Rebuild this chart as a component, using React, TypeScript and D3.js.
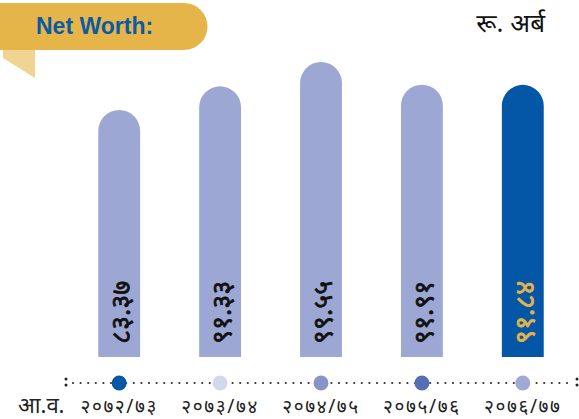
import React, { useRef, useEffect } from 'react';
import * as d3 from 'd3';

const years = ['२०७२/७३', '२०७३/७४', '२०७४/७५', '२०७५/७६', '२०७६/७७'];
const values = [83.37, 91.33, 99.55, 91.91, 91.84];
const valueLabels = ['८३.३७', '९१.३३', '९९.५५', '९१.९१', '९१.८४'];
const dotColors = ['#0457a6', '#d3d8ec', '#8893c8', '#5470b4', '#9fa9d6'];

const App = () => {
  const svgRef = useRef<SVGSVGElement>(null);

  useEffect(() => {
    const width = 579;
    const height = 419;
    const baseY = 357;

    const svg = d3.select(svgRef.current)
      .attr('width', width)
      .attr('height', height);

    svg.selectAll('*').remove();

    const font = '"Noto Sans", "DejaVu Sans", sans-serif';

    // header banner
    svg.append('path')
      .attr('d', 'M3,50 L35,50 L35,78 L3,58 Z')
      .attr('fill', '#f0d492');
    svg.append('path')
      .attr('d', 'M0,3 L184,3 A23.5,23.5 0 0 1 184,50 L0,50 Z')
      .attr('fill', '#e5b54a');
    svg.append('text')
      .attr('x', 36)
      .attr('y', 34)
      .attr('font-family', '"Liberation Sans", Arial, sans-serif')
      .attr('font-weight', 'bold')
      .attr('font-size', 23)
      .attr('fill', '#0a5aa6')
      .text('Net Worth:');

    svg.append('text')
      .attr('x', 545)
      .attr('y', 32)
      .attr('text-anchor', 'end')
      .attr('font-family', font)
      .attr('font-size', 26)
      .attr('fill', '#111')
      .text('रू. अर्ब');

    const x = d3.scaleBand()
      .domain(years)
      .range([68, 574])
      .paddingInner(0.585)
      .paddingOuter(0.3);

    const y = d3.scaleLinear()
      .domain([0, 99.55])
      .range([baseY, 62]);

    const bw = x.bandwidth();
    const r = bw / 2;

    const data = years.map((yr, i) => ({ yr, v: values[i], label: valueLabels[i], i }));

    svg.selectAll('.bar')
      .data(data)
      .enter()
      .append('path')
      .attr('class', 'bar')
      .attr('d', d => {
        const x0 = x(d.yr)!;
        const top = y(d.v);
        return `M${x0},${baseY} L${x0},${top + r} A${r},${r} 0 0 1 ${x0 + bw},${top + r} L${x0 + bw},${baseY} Z`;
      })
      .attr('fill', d => (d.i === 4 ? '#0457a6' : '#9ca8d3'));

    // value labels, rotated inside the bars
    svg.selectAll('.label')
      .data(data)
      .enter()
      .append('text')
      .attr('class', 'label')
      .attr('transform', d => `translate(${x(d.yr)! + r + 11},344) rotate(-90)`)
      .attr('font-family', font)
      .attr('font-size', 27)
      .attr('fill', d => (d.i === 4 ? '#e5b54a' : '#111'))
      .attr('stroke', d => (d.i === 4 ? '#e5b54a' : '#111'))
      .attr('stroke-width', 0.7)
      .text(d => d.label);

    // timeline
    const lineY = 383;
    svg.append('line')
      .attr('x1', 73)
      .attr('x2', 572)
      .attr('y1', lineY)
      .attr('y2', lineY)
      .attr('stroke', '#333')
      .attr('stroke-width', 2.2)
      .attr('stroke-linecap', 'round')
      .attr('stroke-dasharray', '0,7.6');
    [66, 577].forEach(cx => {
      [lineY - 4, lineY + 2].forEach(cy => {
        svg.append('circle').attr('cx', cx).attr('cy', cy).attr('r', 1.5).attr('fill', '#222');
      });
    });

    svg.selectAll('.dot')
      .data(data)
      .enter()
      .append('circle')
      .attr('class', 'dot')
      .attr('cx', d => x(d.yr)! + r)
      .attr('cy', lineY)
      .attr('r', 7.5)
      .attr('fill', d => dotColors[d.i]);

    svg.selectAll('.year')
      .data(data)
      .enter()
      .append('text')
      .attr('class', 'year')
      .attr('x', d => x(d.yr)! + r)
      .attr('y', 413)
      .attr('text-anchor', 'middle')
      .attr('font-family', font)
      .attr('font-size', 19)
      .attr('letter-spacing', 1.6)
      .attr('fill', '#222')
      .text(d => d.yr);

    svg.append('text')
      .attr('x', 18)
      .attr('y', 413)
      .attr('font-family', font)
      .attr('font-size', 22)
      .attr('fill', '#222')
      .text('आ.व.');
  }, []);

  return <svg ref={svgRef} style={{ position: 'absolute', left: 0, top: 0 }}></svg>;
};

export default App;
